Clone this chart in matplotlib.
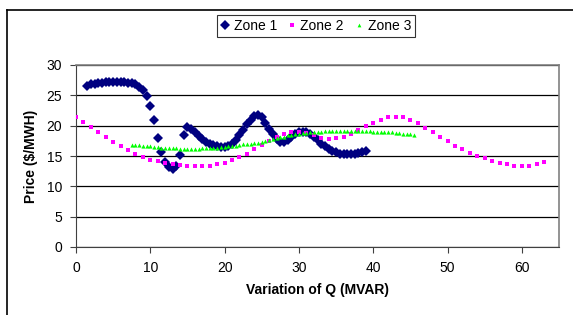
import matplotlib
matplotlib.use('Agg')
import matplotlib.pyplot as plt
from matplotlib.lines import Line2D

plt.rcParams['font.family'] = ['Liberation Sans', 'DejaVu Sans']

# Zone 1
q1 = [1.5, 2.0, 2.5, 3.0, 3.5, 4.0, 4.5, 5.0, 5.5, 6.0, 6.5, 7.0, 7.5, 8.0, 8.5, 9.0,
      9.5, 10.0, 10.5, 11.0, 11.5, 12.0, 12.5, 13.0, 13.5, 14.0, 14.5, 15.0, 15.5, 16.0,
      16.5, 17.0, 17.5, 18.0, 18.5, 19.0, 19.5, 20.0, 20.5, 21.0, 21.5, 22.0, 22.5, 23.0,
      23.5, 24.0, 24.5, 25.0, 25.5, 26.0, 26.5, 27.0, 27.5, 28.0, 28.5, 29.0, 29.5, 30.0,
      30.5, 31.0, 31.5, 32.0, 32.5, 33.0, 33.5, 34.0, 34.5, 35.0, 35.5, 36.0, 36.5, 37.0,
      37.5, 38.0, 38.5, 39.0]
p1 = [26.6, 26.8, 26.9, 27.0, 27.1, 27.2, 27.2, 27.2, 27.2, 27.2, 27.2, 27.1, 27.0, 26.8,
      26.4, 25.8, 24.9, 23.3, 21.0, 18.0, 15.6, 14.0, 13.2, 12.9, 13.4, 15.2, 18.5, 19.8,
      19.5, 18.9, 18.3, 17.8, 17.3, 17.0, 16.8, 16.6, 16.5, 16.5, 16.7, 17.0, 17.6, 18.4,
      19.3, 20.2, 21.0, 21.6, 21.8, 21.4, 20.5, 19.5, 18.6, 17.8, 17.3, 17.3, 17.7, 18.2,
      18.7, 19.0, 19.0, 18.9, 18.6, 18.1, 17.6, 17.0, 16.6, 16.2, 15.9, 15.6, 15.4, 15.3,
      15.3, 15.3, 15.4, 15.5, 15.7, 15.8]

# Zone 2
q2 = [0, 1, 2, 3, 4, 5, 6, 7, 8, 9, 10, 11, 12, 13, 14, 15, 16, 17, 18, 19, 20, 21,
      22, 23, 24, 25, 26, 27, 28, 29, 30, 31, 32, 33, 34, 35, 36, 37, 38, 39, 40, 41,
      42, 43, 44, 45, 46, 47, 48, 49, 50, 51, 52, 53, 54, 55, 56, 57, 58, 59, 60, 61,
      62, 63]
p2 = [21.4, 20.6, 19.8, 18.9, 18.1, 17.3, 16.6, 16.0, 15.4, 14.9, 14.4, 14.1, 13.8, 13.6,
      13.5, 13.4, 13.3, 13.3, 13.4, 13.6, 13.9, 14.3, 14.8, 15.4, 16.1, 16.8, 17.5, 18.1,
      18.6, 18.9, 19.0, 18.8, 18.4, 18.0, 17.8, 17.9, 18.2, 18.7, 19.3, 19.9, 20.5, 21.0,
      21.4, 21.5, 21.4, 21.0, 20.4, 19.6, 18.9, 18.1, 17.4, 16.7, 16.1, 15.5, 15.0, 14.6,
      14.2, 13.9, 13.6, 13.4, 13.3, 13.4, 13.7, 14.0]

# Zone 3
q3 = [7.5, 8.0, 8.5, 9.0, 9.5, 10.0, 10.5, 11.0, 11.5, 12.0, 12.5, 13.0, 13.5, 14.0,
      14.5, 15.0, 15.5, 16.0, 16.5, 17.0, 17.5, 18.0, 18.5, 19.0, 19.5, 20.0, 20.5, 21.0,
      21.5, 22.0, 22.5, 23.0, 23.5, 24.0, 24.5, 25.0, 25.5, 26.0, 26.5, 27.0, 27.5, 28.0,
      28.5, 29.0, 29.5, 30.0, 30.5, 31.0, 31.5, 32.0, 32.5, 33.0, 33.5, 34.0, 34.5, 35.0,
      35.5, 36.0, 36.5, 37.0, 37.5, 38.0, 38.5, 39.0, 39.5, 40.0, 40.5, 41.0, 41.5, 42.0,
      42.5, 43.0, 43.5, 44.0, 44.5, 45.0, 45.5]
p3 = [16.8, 16.8, 16.8, 16.7, 16.7, 16.6, 16.5, 16.5, 16.4, 16.4, 16.3, 16.3, 16.3, 16.2,
      16.2, 16.2, 16.2, 16.2, 16.2, 16.3, 16.3, 16.3, 16.4, 16.4, 16.5, 16.5, 16.6, 16.6,
      16.7, 16.8, 16.9, 16.9, 17.0, 17.1, 17.2, 17.3, 17.5, 17.6, 17.8, 17.9, 18.1, 18.2,
      18.4, 18.5, 18.6, 18.7, 18.8, 18.8, 18.9, 18.9, 19.0, 19.0, 19.1, 19.1, 19.1, 19.1,
      19.2, 19.2, 19.2, 19.2, 19.2, 19.2, 19.2, 19.1, 19.1, 19.0, 19.0, 19.0, 19.0, 18.9,
      18.9, 18.8, 18.8, 18.7, 18.7, 18.6, 18.5]

fig = plt.figure(figsize=(5.73, 3.15), dpi=100)
ax = fig.add_axes([76/573, 1-247/315, (559-76)/573, (247-65)/315])

ax.plot(q1, p1, 'D', color='#000080', markersize=5.2, markeredgewidth=0, label='Zone 1', zorder=3)
ax.plot(q2, p2, 's', color='#ff00ff', markersize=3.4, markeredgewidth=0, label='Zone 2', zorder=3)
ax.plot(q3, p3, '^', color='#00ff00', markersize=3.0, markeredgewidth=0, label='Zone 3', zorder=3)

ax.set_xlim(0, 65)
ax.set_ylim(0, 30)
ax.set_xticks(range(0, 61, 10))
ax.set_yticks(range(0, 31, 5))
ax.yaxis.grid(True, color='black', linewidth=0.9)
ax.set_axisbelow(True)
for s in ['top', 'right']:
    ax.spines[s].set_color('#808080')
    ax.spines[s].set_linewidth(1.2)
for s in ['left', 'bottom']:
    ax.spines[s].set_color('#404040')
ax.tick_params(direction='out', length=4, color='#404040', labelsize=10, pad=6)
ax.set_xlabel('Variation of Q (MVAR)', fontsize=10, fontweight='bold', labelpad=6)
ax.set_ylabel('Price ($/MWH)', fontsize=10, fontweight='bold', labelpad=6)

leg = fig.legend(loc='center', bbox_to_anchor=(316/573, 1-26/315), ncol=3, fontsize=10,
                 frameon=True, fancybox=False, edgecolor='black', handlelength=0.6,
                 handletextpad=0.3, columnspacing=0.8, borderpad=0.3, markerscale=0.9)
leg.get_frame().set_linewidth(0.8)

# outer chart border
fig.add_artist(Line2D([7/573, 7/573], [-0.1, 1-10/315], color='black', linewidth=1.2, transform=fig.transFigure))
fig.add_artist(Line2D([7/573, 1.1], [1-10/315, 1-10/315], color='black', linewidth=1.2, transform=fig.transFigure))

fig.savefig('out.png', dpi=100)
